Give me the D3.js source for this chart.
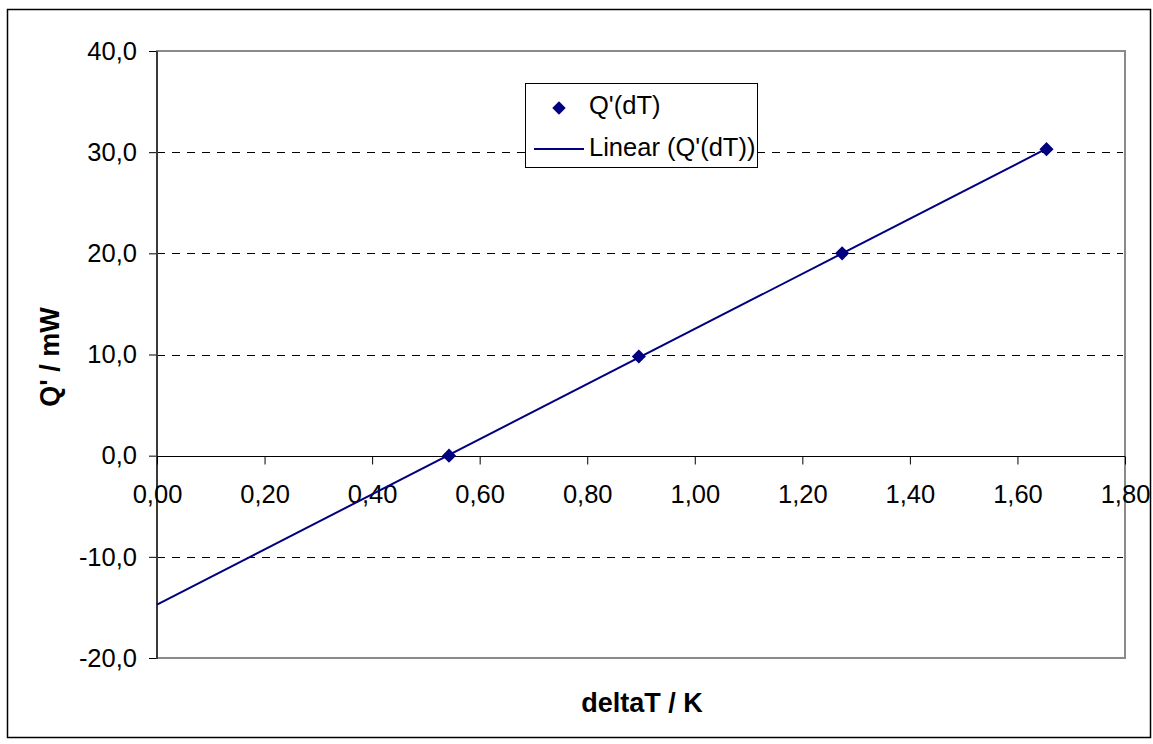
<!DOCTYPE html>
<html>
<head>
<meta charset="utf-8">
<script src="https://cdn.jsdelivr.net/npm/d3@7"></script>
<style>
  body { margin: 0; background: #fff; }
  text { font-family: "Liberation Sans", Arial, sans-serif; }
</style>
</head>
<body>
<svg id="chart" width="1153" height="744"></svg>
<script>
// Measured heat flow Q' against temperature difference deltaT
const deltaT = [0.543, 0.896, 1.274, 1.654];
const power = [0.0, 9.8, 20.0, 30.3];
const xTicks = [0, 0.2, 0.4, 0.6, 0.8, 1.0, 1.2, 1.4, 1.6, 1.8];
const yTicks = [-20, -10, 0, 10, 20, 30, 40];
const gridValues = [-10, 10, 20, 30];
const seriesName = "Q'(dT)";
const trendName = "Linear (Q'(dT))";
const xTitle = "deltaT / K";
const yTitle = "Q' / mW";

const navy = "#000080";
const W = 1153, H = 744;
const plot = { left: 157, right: 1125, top: 51, bottom: 658 };
const labelSize = 25.5;
const titleSize = 27;

const locale = d3.formatLocale({ decimal: ",", thousands: ".", grouping: [3], currency: ["", " €"], minus: "-" });
const fmtX = locale.format(".2f");
const fmtY = locale.format(".1f");

const svg = d3.select("#chart");
svg.append("rect").attr("width", W).attr("height", H).attr("fill", "#fff");

// chart frame
svg.append("rect")
  .attr("x", 7.5).attr("y", 9.5).attr("width", 1143).attr("height", 728)
  .attr("fill", "none").attr("stroke", "#000").attr("stroke-width", 1.5);

const x = d3.scaleLinear().domain([0, 1.8]).range([plot.left, plot.right]);
const y = d3.scaleLinear().domain([-20, 40]).range([plot.bottom, plot.top]);

// plot area border
svg.append("rect")
  .attr("x", plot.left).attr("y", plot.top)
  .attr("width", plot.right - plot.left).attr("height", plot.bottom - plot.top)
  .attr("fill", "#fff").attr("stroke", "#8a8a8a").attr("stroke-width", 2);

// dashed horizontal gridlines
svg.append("g").selectAll("line").data(gridValues).join("line")
  .attr("x1", plot.left).attr("x2", plot.right - 2)
  .attr("y1", d => Math.round(y(d)) + 0.5).attr("y2", d => Math.round(y(d)) + 0.5)
  .attr("stroke", "#000").attr("stroke-width", 1).attr("stroke-dasharray", "8,7");

// y axis
const yAxis = svg.append("g")
  .attr("transform", `translate(${plot.left},0)`)
  .call(d3.axisLeft(y).tickValues(yTicks).tickFormat(fmtY).tickSize(8).tickPadding(12));
yAxis.select(".domain").remove();
yAxis.selectAll(".tick line").attr("stroke", "#000");
yAxis.selectAll("text").attr("font-size", labelSize).attr("fill", "#000")
  .attr("font-family", "Liberation Sans, Arial, sans-serif");
svg.append("line")
  .attr("x1", plot.left).attr("x2", plot.left)
  .attr("y1", plot.top).attr("y2", plot.bottom + 1)
  .attr("stroke", "#3a3a3a").attr("stroke-width", 2);

// x axis along Q' = 0
const xAxis = svg.append("g")
  .attr("transform", `translate(0,${Math.round(y(0)) + 0.5})`)
  .call(d3.axisBottom(x).tickValues(xTicks).tickFormat(fmtX).tickSize(8).tickPadding(20));
xAxis.select(".domain").remove();
xAxis.selectAll(".tick line").attr("stroke", "#000");
xAxis.selectAll("text").attr("font-size", labelSize).attr("fill", "#000")
  .attr("font-family", "Liberation Sans, Arial, sans-serif");
svg.append("line")
  .attr("x1", plot.left).attr("x2", plot.right)
  .attr("y1", Math.round(y(0)) + 0.5).attr("y2", Math.round(y(0)) + 0.5)
  .attr("stroke", "#000").attr("stroke-width", 1);

// least-squares trendline through the measurements, extended back to deltaT = 0
const mx = d3.mean(deltaT), my = d3.mean(power);
const slope = d3.sum(deltaT, (d, i) => (d - mx) * (power[i] - my)) / d3.sum(deltaT, d => (d - mx) ** 2);
const intercept = my - slope * mx;
const trendX = [0, d3.max(deltaT)];
svg.append("path")
  .datum(trendX)
  .attr("fill", "none").attr("stroke", navy).attr("stroke-width", 2)
  .attr("d", d3.line().x(d => x(d)).y(d => y(intercept + slope * d)));

// data points as diamonds
const diamond = d3.symbol().type(d3.symbolSquare).size(100);
svg.append("g").selectAll("path").data(deltaT).join("path")
  .attr("d", diamond)
  .attr("transform", (d, i) => `translate(${x(d)},${y(power[i])}) rotate(45)`)
  .attr("fill", navy);

// legend
const lg = svg.append("g");
lg.append("rect").attr("x", 525.5).attr("y", 83.5).attr("width", 232).attr("height", 84)
  .attr("fill", "#fff").attr("stroke", "#000").attr("stroke-width", 1);
lg.append("path").attr("d", d3.symbol().type(d3.symbolSquare).size(90))
  .attr("transform", "translate(559,108) rotate(45)").attr("fill", navy);
lg.append("line").attr("x1", 534).attr("x2", 584).attr("y1", 149).attr("y2", 149)
  .attr("stroke", navy).attr("stroke-width", 2);
lg.append("text").attr("x", 589).attr("y", 114).attr("font-size", labelSize).text(seriesName);
lg.append("text").attr("x", 589).attr("y", 156).attr("font-size", labelSize).text(trendName);

// axis titles
svg.append("text")
  .attr("x", 642).attr("y", 712)
  .attr("text-anchor", "middle").attr("font-size", titleSize).attr("font-weight", "bold")
  .text(xTitle);
svg.append("text")
  .attr("transform", `translate(59,357) rotate(-90)`)
  .attr("text-anchor", "middle").attr("font-size", titleSize).attr("font-weight", "bold")
  .text(yTitle);
</script>
</body>
</html>
